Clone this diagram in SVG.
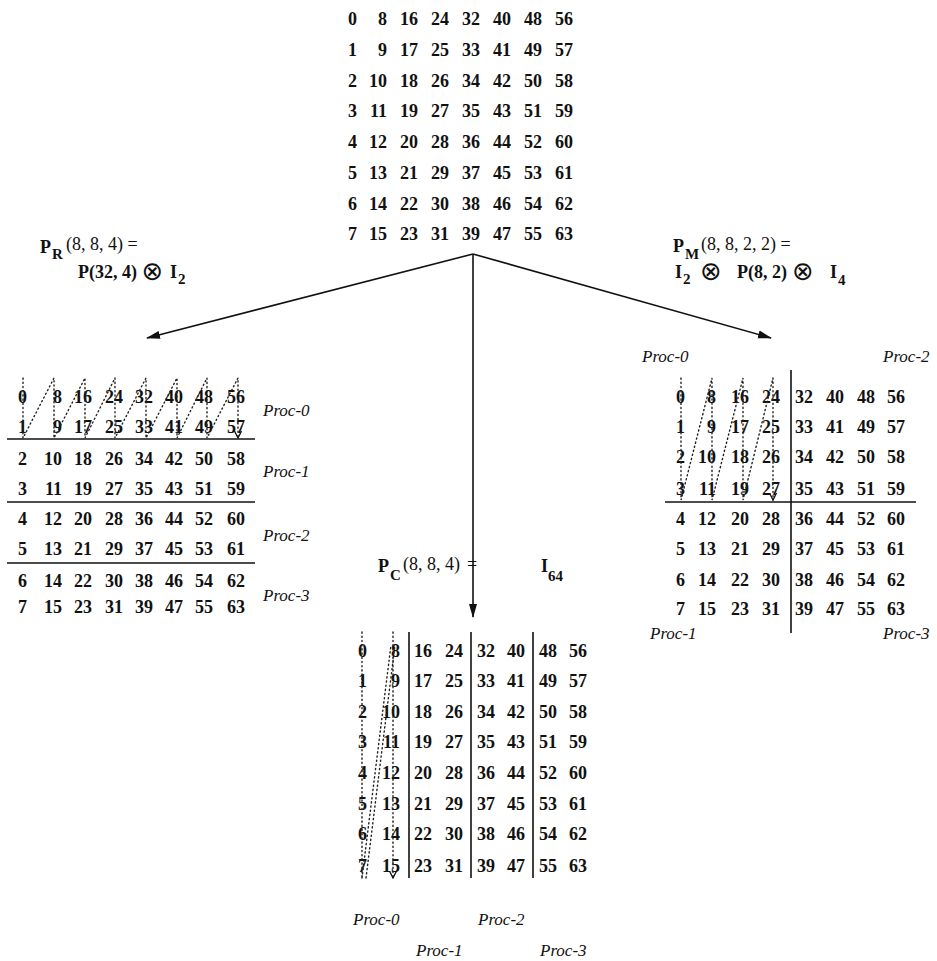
<svg xmlns="http://www.w3.org/2000/svg" width="937" height="961" viewBox="0 0 937 961">
<style>
.n{font-family:"Liberation Serif",serif;font-size:18px;font-weight:bold;text-anchor:end;fill:#111}
.p{font-family:"Liberation Serif",serif;font-size:17px;font-style:italic;fill:#111}
.f{font-family:"Liberation Serif",serif;font-size:18px;font-weight:bold;fill:#111}
.fn{font-family:"Liberation Serif",serif;font-size:18px;font-weight:normal;fill:#111}
.s{font-family:"Liberation Serif",serif;font-size:15px;font-weight:bold;fill:#111}
.ot{font-family:"DejaVu Sans",sans-serif;font-size:26px;text-anchor:middle;fill:#111}
.rule{stroke:#111;stroke-width:1.6;fill:none}
.dot{stroke:#222;stroke-width:1.4;stroke-dasharray:1.2 3;stroke-linecap:round;fill:none}
.conn{stroke:#111;stroke-width:1.6;fill:none}
</style>
<defs>
<marker id="ah" markerWidth="14" markerHeight="10" refX="13" refY="5" orient="auto" markerUnits="userSpaceOnUse">
<path d="M0,1 L14,5 L0,9 z" fill="#111"/>
</marker>
<marker id="sa" markerWidth="8" markerHeight="8" refX="7" refY="4" orient="auto" markerUnits="userSpaceOnUse">
<path d="M0,0.5 L7,4 L0,7.5" fill="none" stroke="#111" stroke-width="1.3"/>
</marker>
</defs>

<g id="source-matrix" class="n">
<text y="25"><tspan x="357">0</tspan><tspan x="387">8</tspan><tspan x="418">16</tspan><tspan x="449">24</tspan><tspan x="480">32</tspan><tspan x="511">40</tspan><tspan x="542">48</tspan><tspan x="573">56</tspan></text>
<text y="56"><tspan x="357">1</tspan><tspan x="387">9</tspan><tspan x="418">17</tspan><tspan x="449">25</tspan><tspan x="480">33</tspan><tspan x="511">41</tspan><tspan x="542">49</tspan><tspan x="573">57</tspan></text>
<text y="87"><tspan x="357">2</tspan><tspan x="387">10</tspan><tspan x="418">18</tspan><tspan x="449">26</tspan><tspan x="480">34</tspan><tspan x="511">42</tspan><tspan x="542">50</tspan><tspan x="573">58</tspan></text>
<text y="117"><tspan x="357">3</tspan><tspan x="387">11</tspan><tspan x="418">19</tspan><tspan x="449">27</tspan><tspan x="480">35</tspan><tspan x="511">43</tspan><tspan x="542">51</tspan><tspan x="573">59</tspan></text>
<text y="148"><tspan x="357">4</tspan><tspan x="387">12</tspan><tspan x="418">20</tspan><tspan x="449">28</tspan><tspan x="480">36</tspan><tspan x="511">44</tspan><tspan x="542">52</tspan><tspan x="573">60</tspan></text>
<text y="179"><tspan x="357">5</tspan><tspan x="387">13</tspan><tspan x="418">21</tspan><tspan x="449">29</tspan><tspan x="480">37</tspan><tspan x="511">45</tspan><tspan x="542">53</tspan><tspan x="573">61</tspan></text>
<text y="210"><tspan x="357">6</tspan><tspan x="387">14</tspan><tspan x="418">22</tspan><tspan x="449">30</tspan><tspan x="480">38</tspan><tspan x="511">46</tspan><tspan x="542">54</tspan><tspan x="573">62</tspan></text>
<text y="240"><tspan x="357">7</tspan><tspan x="387">15</tspan><tspan x="418">23</tspan><tspan x="449">31</tspan><tspan x="480">39</tspan><tspan x="511">47</tspan><tspan x="542">55</tspan><tspan x="573">63</tspan></text>
</g>

<g id="label-row">
<text class="f" x="40" y="253" font-size="19">P</text>
<text class="s" x="52" y="259">R</text>
<text class="fn" x="66" y="250">(8, 8, 4) =</text>
<text class="f" x="78" y="278">P(32, 4)</text>
<text class="ot" x="152.5" y="280">⊗</text>
<text class="f" x="170" y="278">I</text>
<text class="s" x="178" y="284">2</text>
</g>

<g id="label-mesh">
<text class="f" x="673" y="252" font-size="19">P</text>
<text class="s" x="685" y="259">M</text>
<text class="fn" x="701" y="250">(8, 8, 2, 2) =</text>
<text class="f" x="675" y="278">I</text>
<text class="s" x="683" y="284">2</text>
<text class="ot" x="711" y="280">⊗</text>
<text class="f" x="737" y="278">P(8, 2)</text>
<text class="ot" x="803" y="280">⊗</text>
<text class="f" x="830" y="278">I</text>
<text class="s" x="838" y="285">4</text>
</g>

<g id="label-column">
<text class="f" x="378" y="572" font-size="19">P</text>
<text class="s" x="390" y="580">C</text>
<text class="fn" x="403" y="570">(8, 8, 4)</text>
<text class="fn" x="472" y="570" text-anchor="middle">=</text>
<text class="f" x="541" y="572">I</text>
<text class="s" x="548" y="581">64</text>
</g>

<g id="connectors">
<line class="conn" x1="473" y1="254" x2="147" y2="338" marker-end="url(#ah)"/>
<line class="conn" x1="473" y1="254" x2="771" y2="338" marker-end="url(#ah)"/>
<line class="conn" x1="473" y1="254" x2="473" y2="617" marker-end="url(#ah)"/>
</g>

<g id="row-matrix">
<g class="n">
<text y="403"><tspan x="27">0</tspan><tspan x="62">8</tspan><tspan x="92">16</tspan><tspan x="123">24</tspan><tspan x="153">32</tspan><tspan x="183">40</tspan><tspan x="213">48</tspan><tspan x="245">56</tspan></text>
<text y="433"><tspan x="27">1</tspan><tspan x="62">9</tspan><tspan x="92">17</tspan><tspan x="123">25</tspan><tspan x="153">33</tspan><tspan x="183">41</tspan><tspan x="213">49</tspan><tspan x="245">57</tspan></text>
<text y="465"><tspan x="27">2</tspan><tspan x="62">10</tspan><tspan x="92">18</tspan><tspan x="123">26</tspan><tspan x="153">34</tspan><tspan x="183">42</tspan><tspan x="213">50</tspan><tspan x="245">58</tspan></text>
<text y="495"><tspan x="27">3</tspan><tspan x="62">11</tspan><tspan x="92">19</tspan><tspan x="123">27</tspan><tspan x="153">35</tspan><tspan x="183">43</tspan><tspan x="213">51</tspan><tspan x="245">59</tspan></text>
<text y="525"><tspan x="27">4</tspan><tspan x="62">12</tspan><tspan x="92">20</tspan><tspan x="123">28</tspan><tspan x="153">36</tspan><tspan x="183">44</tspan><tspan x="213">52</tspan><tspan x="245">60</tspan></text>
<text y="555"><tspan x="27">5</tspan><tspan x="62">13</tspan><tspan x="92">21</tspan><tspan x="123">29</tspan><tspan x="153">37</tspan><tspan x="183">45</tspan><tspan x="213">53</tspan><tspan x="245">61</tspan></text>
<text y="587"><tspan x="27">6</tspan><tspan x="62">14</tspan><tspan x="92">22</tspan><tspan x="123">30</tspan><tspan x="153">38</tspan><tspan x="183">46</tspan><tspan x="213">54</tspan><tspan x="245">62</tspan></text>
<text y="613"><tspan x="27">7</tspan><tspan x="62">15</tspan><tspan x="92">23</tspan><tspan x="123">31</tspan><tspan x="153">39</tspan><tspan x="183">47</tspan><tspan x="213">55</tspan><tspan x="245">63</tspan></text>
</g>
<line class="rule" x1="7" y1="439" x2="255" y2="439"/>
<line class="rule" x1="7" y1="502" x2="255" y2="502"/>
<line class="rule" x1="7" y1="563" x2="255" y2="563"/>
<path class="dot" d="M23,378 V438 L54,378 V438 L85,378 V438 L115,378 V438 L146,378 V438 L177,378 V438 L207,378 V438 L238,378 V438" marker-end="url(#sa)"/>
<text class="p" x="263" y="416">Proc-0</text>
<text class="p" x="263" y="477">Proc-1</text>
<text class="p" x="263" y="541">Proc-2</text>
<text class="p" x="263" y="601">Proc-3</text>
</g>

<g id="mesh-matrix">
<g class="n">
<text y="403"><tspan x="685">0</tspan><tspan x="716">8</tspan><tspan x="749">16</tspan><tspan x="780">24</tspan><tspan x="813">32</tspan><tspan x="844">40</tspan><tspan x="875">48</tspan><tspan x="905">56</tspan></text>
<text y="433"><tspan x="685">1</tspan><tspan x="716">9</tspan><tspan x="749">17</tspan><tspan x="780">25</tspan><tspan x="813">33</tspan><tspan x="844">41</tspan><tspan x="875">49</tspan><tspan x="905">57</tspan></text>
<text y="463"><tspan x="685">2</tspan><tspan x="716">10</tspan><tspan x="749">18</tspan><tspan x="780">26</tspan><tspan x="813">34</tspan><tspan x="844">42</tspan><tspan x="875">50</tspan><tspan x="905">58</tspan></text>
<text y="495"><tspan x="685">3</tspan><tspan x="716">11</tspan><tspan x="749">19</tspan><tspan x="780">27</tspan><tspan x="813">35</tspan><tspan x="844">43</tspan><tspan x="875">51</tspan><tspan x="905">59</tspan></text>
<text y="525"><tspan x="685">4</tspan><tspan x="716">12</tspan><tspan x="749">20</tspan><tspan x="780">28</tspan><tspan x="813">36</tspan><tspan x="844">44</tspan><tspan x="875">52</tspan><tspan x="905">60</tspan></text>
<text y="555"><tspan x="685">5</tspan><tspan x="716">13</tspan><tspan x="749">21</tspan><tspan x="780">29</tspan><tspan x="813">37</tspan><tspan x="844">45</tspan><tspan x="875">53</tspan><tspan x="905">61</tspan></text>
<text y="586"><tspan x="685">6</tspan><tspan x="716">14</tspan><tspan x="749">22</tspan><tspan x="780">30</tspan><tspan x="813">38</tspan><tspan x="844">46</tspan><tspan x="875">54</tspan><tspan x="905">62</tspan></text>
<text y="615"><tspan x="685">7</tspan><tspan x="716">15</tspan><tspan x="749">23</tspan><tspan x="780">31</tspan><tspan x="813">39</tspan><tspan x="844">47</tspan><tspan x="875">55</tspan><tspan x="905">63</tspan></text>
</g>
<line class="rule" x1="791" y1="370" x2="791" y2="633"/>
<line class="rule" x1="665" y1="502" x2="916" y2="502"/>
<path class="dot" d="M681,378 V500 L712,378 V500 L743,378 V500 L773,378 V500" marker-end="url(#sa)"/>
<text class="p" x="642" y="362">Proc-0</text>
<text class="p" x="883" y="362">Proc-2</text>
<text class="p" x="650" y="639">Proc-1</text>
<text class="p" x="883" y="639">Proc-3</text>
</g>

<g id="column-matrix">
<g class="n">
<text y="657"><tspan x="367">0</tspan><tspan x="400">8</tspan><tspan x="432">16</tspan><tspan x="463">24</tspan><tspan x="495">32</tspan><tspan x="525">40</tspan><tspan x="557">48</tspan><tspan x="587">56</tspan></text>
<text y="687"><tspan x="367">1</tspan><tspan x="400">9</tspan><tspan x="432">17</tspan><tspan x="463">25</tspan><tspan x="495">33</tspan><tspan x="525">41</tspan><tspan x="557">49</tspan><tspan x="587">57</tspan></text>
<text y="718"><tspan x="367">2</tspan><tspan x="400">10</tspan><tspan x="432">18</tspan><tspan x="463">26</tspan><tspan x="495">34</tspan><tspan x="525">42</tspan><tspan x="557">50</tspan><tspan x="587">58</tspan></text>
<text y="748"><tspan x="367">3</tspan><tspan x="400">11</tspan><tspan x="432">19</tspan><tspan x="463">27</tspan><tspan x="495">35</tspan><tspan x="525">43</tspan><tspan x="557">51</tspan><tspan x="587">59</tspan></text>
<text y="779"><tspan x="367">4</tspan><tspan x="400">12</tspan><tspan x="432">20</tspan><tspan x="463">28</tspan><tspan x="495">36</tspan><tspan x="525">44</tspan><tspan x="557">52</tspan><tspan x="587">60</tspan></text>
<text y="810"><tspan x="367">5</tspan><tspan x="400">13</tspan><tspan x="432">21</tspan><tspan x="463">29</tspan><tspan x="495">37</tspan><tspan x="525">45</tspan><tspan x="557">53</tspan><tspan x="587">61</tspan></text>
<text y="840"><tspan x="367">6</tspan><tspan x="400">14</tspan><tspan x="432">22</tspan><tspan x="463">30</tspan><tspan x="495">38</tspan><tspan x="525">46</tspan><tspan x="557">54</tspan><tspan x="587">62</tspan></text>
<text y="872"><tspan x="367">7</tspan><tspan x="400">15</tspan><tspan x="432">23</tspan><tspan x="463">31</tspan><tspan x="495">39</tspan><tspan x="525">47</tspan><tspan x="557">55</tspan><tspan x="587">63</tspan></text>
</g>
<line class="rule" x1="409" y1="632" x2="409" y2="878"/>
<line class="rule" x1="471" y1="632" x2="471" y2="878"/>
<line class="rule" x1="533" y1="632" x2="533" y2="878"/>
<path class="dot" d="M362,632 V878"/>
<path class="dot" d="M362,878 L391,645"/>
<path class="dot" d="M366,878 L395,645"/>
<path class="dot" d="M393,632 V878" marker-end="url(#sa)"/>
<text class="p" x="353" y="925">Proc-0</text>
<text class="p" x="478" y="925">Proc-2</text>
<text class="p" x="416" y="956">Proc-1</text>
<text class="p" x="540" y="956">Proc-3</text>
</g>
</svg>
